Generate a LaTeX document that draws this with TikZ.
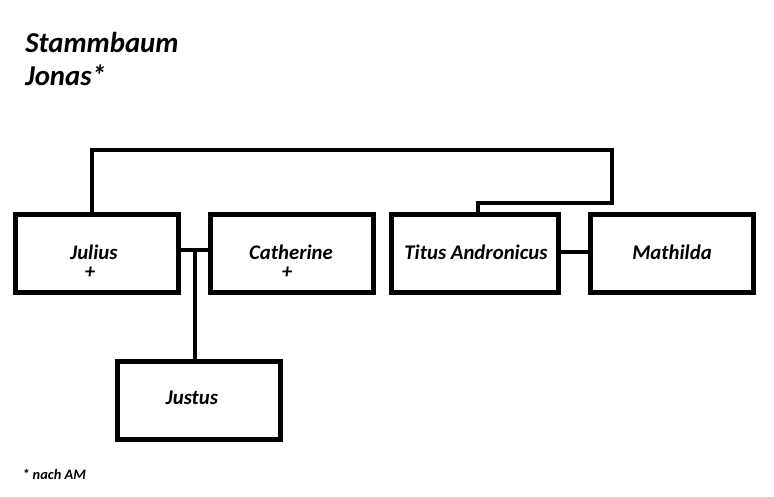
\documentclass[tikz,border=0pt]{standalone}
\usepackage{fontspec}
\setmainfont{Carlito}
\usetikzlibrary{calc}
\tikzset{
  box/.style={draw=black, line width=3.75pt, rectangle, minimum width=122.25pt, minimum height=58.5pt, inner sep=0pt, fill=white},
  conn/.style={draw=black, line width=3.4pt, line join=miter},
  lbl/.style={font=\fontsize{15.6}{18}\selectfont\bfseries\itshape, anchor=base, inner sep=0pt},
  ttl/.style={font=\fontsize{21.6}{25}\selectfont\bfseries\itshape, anchor=base west, inner sep=0pt},
  note/.style={font=\fontsize{10.8}{12}\selectfont\bfseries\itshape, anchor=base west, inner sep=0pt}
}
\begin{document}
\begin{tikzpicture}[x=0.75pt, y=-0.75pt]
\useasboundingbox[fill=white] (0,0) rectangle (774,496);
% boxes
\node[box] (julius) at (97,253.5) {};
\node[box] (catherine) at (292,253.5) {};
\node[box, minimum width=125.25pt] (titus) at (475,253.5) {};
\node[box] (mathilda) at (672,253.5) {};
\node[box] (justus) at (199,400.5) {};
% connector helper coordinates
\coordinate (jtop) at (92,150);
\coordinate (rtop) at (612,150);
\coordinate (rmid) at (612,203);
\coordinate (tx) at (478,203);
\coordinate (m1) at (195,250);
\coordinate (m2) at (575,252);
% connectors
\draw[conn] (julius.north -| jtop) -- (jtop) -- (rtop) -- (rmid) -- (tx) -- (titus.north -| tx);
\draw[conn] (julius.east |- m1) -- (catherine.west |- m1);
\draw[conn] (m1) -- (justus.north -| m1);
\draw[conn] (titus.east |- m2) -- (mathilda.west |- m2);
% labels
\node[lbl] (tjulius) at (94,259) {Julius};
\node[lbl] (pjulius) at (90,278) {+};
\node[lbl] (tcath) at (291,259) {Catherine};
\node[lbl] (pcath) at (287,278) {+};
\node[lbl] (ttitus) at (476,259) {Titus Andronicus};
\node[lbl] (tmath) at (672,259) {Mathilda};
\node[lbl] (tjustus) at (192,404) {Justus};
% title
\node[ttl] (title1) at (25,52) {Stammbaum};
\node[ttl] (title2) at (25,85) {Jonas*};
\node[note] (footnote) at (22,479) {* nach AM};
\end{tikzpicture}
\end{document}
